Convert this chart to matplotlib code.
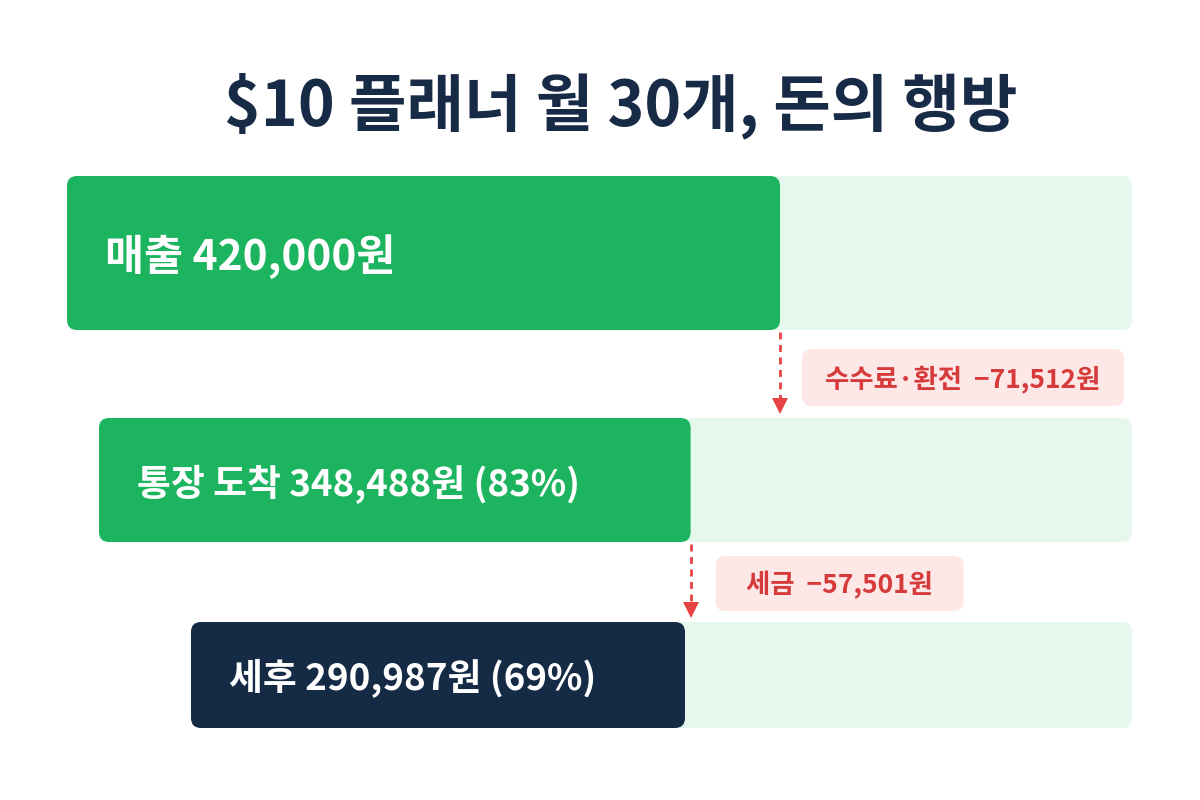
import matplotlib.pyplot as plt
from matplotlib.patches import FancyBboxPatch
from matplotlib.transforms import blended_transform_factory

plt.rcParams['font.family'] = ['Noto Sans CJK KR', 'DejaVu Sans']

# data
title = '$10 플래너 월 30개, 돈의 행방'
stages = ['매출', '통장 도착', '세후']
amounts = [420000, 348488, 290987]
shares = [None, 83, 69]
deductions = ['수수료·환전', '세금']
deduction_amounts = [71512, 57501]

# layout (pixels on a 1200x800 canvas)
W, H = 1200, 800
bar_left = [67, 99, 191]
bar_top = [176, 418, 622]
bar_h = [154, 124, 106]
track_right = 1132
scale_px = 713          # pixel length of the axis span 0..amounts[0]
pill_gap = [22, 25]
pill_w = [322, 248]
pill_top = [349, 556]
pill_h = [57, 55]
label_pad = 38
label_size = [30.5, 26.5, 26.5]

fill_colors = ['#1db45f', '#1db45f', '#142a45']
track_color = '#e6f7ee'
pill_color = '#fde7e7'
red_text = '#d63a3a'
arrow_red = '#e84343'
navy = '#172a46'


def px_axes(left, top, w, h):
    return fig.add_axes([left / W, 1 - (top + h) / H, w / W, h / H])


fig = plt.figure(figsize=(12, 8), dpi=100)
fig.patch.set_facecolor('white')
ax = fig.add_axes([0, 0, 1, 1])
ax.set_xlim(0, W)
ax.set_ylim(H, 0)
ax.axis('off')

# text layer above everything
tx = fig.add_axes([0, 0, 1, 1], zorder=3)
tx.set_xlim(0, W)
tx.set_ylim(H, 0)
tx.axis('off')
tx.patch.set_alpha(0)

tx.text(621, 106, title, ha='center', va='center', fontsize=45,
        fontweight='heavy', color=navy)

bar_axes = []
for i, (stage, amount) in enumerate(zip(stages, amounts)):
    left, top, h = bar_left[i], bar_top[i], bar_h[i]
    # background track
    ax.add_patch(FancyBboxPatch((left, top), track_right - left, h,
                                boxstyle='round,pad=0,rounding_size=10',
                                facecolor=track_color, edgecolor='none', zorder=1))
    # value bar on its own axis, 0..amounts[0] spans scale_px
    bx = px_axes(left, top, scale_px, h)
    bx.set_zorder(1)
    bx.set_xlim(0, amounts[0])
    bx.set_ylim(0, 1)
    bx.axis('off')
    bx.patch.set_alpha(0)
    won_per_px = amounts[0] / scale_px
    bx.add_patch(FancyBboxPatch((0, 0), amount, 1,
                                boxstyle=f'round,pad=0,rounding_size={10 * won_per_px}',
                                mutation_aspect=(1 / h) / won_per_px,
                                facecolor=fill_colors[i], edgecolor='none'))
    label = f'{stage} {amount:,}원'
    if shares[i] is not None:
        label += f' ({shares[i]}%)'
    tx.text(left + label_pad, top + h / 2 + 4, label, ha='left', va='center',
            fontsize=label_size[i], fontweight='bold', color='white')
    bar_axes.append(bx)

for i, (name, amt) in enumerate(zip(deductions, deduction_amounts)):
    bx = bar_axes[i]
    trans = blended_transform_factory(bx.transData, tx.transData)
    x = amounts[i]
    y0 = bar_top[i] + bar_h[i]
    y1 = bar_top[i + 1] - 6
    tx.plot([x, x], [y0 + 2, y1 - 8], transform=trans, color=arrow_red,
            lw=2, linestyle=(0, (2.5, 2)))
    tx.plot([x], [y1 - 6], transform=trans, marker='v', markersize=11,
            color=arrow_red, markeredgewidth=0)
    # pill next to the arrow
    x_px = trans.transform((x, 0))[0]
    pl = x_px + pill_gap[i]
    tx.add_patch(FancyBboxPatch((pl, pill_top[i]), pill_w[i], pill_h[i],
                                boxstyle='round,pad=0,rounding_size=10',
                                facecolor=pill_color, edgecolor='none'))
    tx.text(pl + pill_w[i] / 2, pill_top[i] + pill_h[i] / 2 + 2,
            f'{name}  \u2212{amt:,}원', ha='center', va='center',
            fontsize=19, fontweight='bold', color=red_text)

fig.savefig('out.png', dpi=100, facecolor='white')
